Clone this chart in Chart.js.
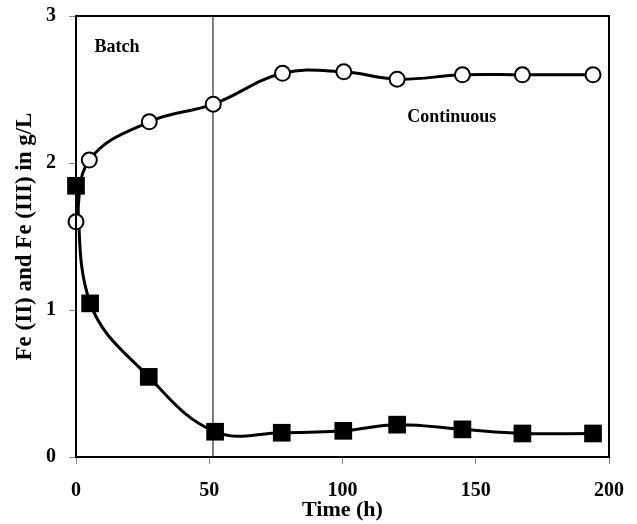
<!DOCTYPE html>
<html>
<head>
<meta charset="utf-8">
<script src="https://cdn.jsdelivr.net/npm/chart.js@4/dist/chart.umd.min.js"></script>
<style>
  html, body { margin: 0; padding: 0; background: #fff; }
  #wrap { width: 637px; height: 524px; }
</style>
</head>
<body>
<div id="wrap"><canvas id="myChart"></canvas></div>
<script>
// Fe (III) - open circles
var timeFe3 = [0, 5, 27.5, 51.5, 77.5, 100.5, 120.5, 145, 167.5, 194]
var fe3 = [1.6, 2.02, 2.28, 2.40, 2.61, 2.62, 2.57, 2.60, 2.60, 2.60]

// Fe (II) - filled squares
var timeFe2 = [0, 5.3, 27.3, 52.2, 77.2, 100.3, 120.5, 145, 167.5, 194]
var fe2 = [1.845, 1.045, 0.545, 0.172, 0.165, 0.178, 0.22, 0.188, 0.16, 0.16]

// switch from batch to continuous mode
var batchEnd = 51.4

var xTicks = [0, 50, 100, 150, 200]
var yTicks = [0, 1, 2, 3]

var notes = [
    { text: "Batch", x: 15.4, y: 2.79 },
    { text: "Continuous", x: 141, y: 2.31 }
]

var serif = "'Liberation Serif', 'Times New Roman', serif"

function toPoints(xs, ys) {
    return xs.map(function (x, i) { return { x: x, y: ys[i] } })
}

// frame round the plot + text notes
var framePlugin = {
    id: "frame",
    afterDatasetsDraw: function (chart) {
        var ctx = chart.ctx
        var a = chart.chartArea
        var xs = chart.scales.x, ys = chart.scales.y
        ctx.save()
        ctx.strokeStyle = "#000"
        ctx.lineWidth = 2
        ctx.strokeRect(a.left, a.top, a.right - a.left, a.bottom - a.top)
        ctx.fillStyle = "#000"
        ctx.font = "bold 18px " + serif
        ctx.textAlign = "center"
        ctx.textBaseline = "middle"
        notes.forEach(function (n) {
            ctx.fillText(n.text, xs.getPixelForValue(n.x), ys.getPixelForValue(n.y))
        })
        ctx.restore()
    }
}

var chartField = document.querySelector("#myChart").getContext("2d")

var myChart = new Chart(chartField, {
    type: "line",
    data: {
        datasets: [{
            label: "Fe (III)",
            data: toPoints(timeFe3, fe3),
            borderColor: "#000",
            borderWidth: 3,
            tension: 0.4,
            pointStyle: "circle",
            pointRadius: 7.5,
            pointBorderWidth: 2,
            pointBackgroundColor: "#fff",
            pointBorderColor: "#000",
            clip: false
        }, {
            label: "Fe (II)",
            data: toPoints(timeFe2, fe2),
            borderColor: "#000",
            borderWidth: 3,
            tension: 0.4,
            pointStyle: "rect",
            pointRadius: 12.5,
            pointBorderWidth: 0,
            pointBackgroundColor: "#000",
            pointBorderColor: "#000",
            clip: false
        }, {
            label: "boundary",
            data: [{ x: batchEnd, y: yTicks[0] }, { x: batchEnd, y: yTicks[yTicks.length - 1] }],
            borderColor: "#000",
            borderWidth: 1,
            pointRadius: 0,
            tension: 0
        }]
    },
    options: {
        responsive: true,
        maintainAspectRatio: false,
        animation: false,
        layout: { padding: { left: 0, right: 28, top: 16, bottom: 0 } },
        plugins: {
            legend: { display: false },
            tooltip: { enabled: false }
        },
        scales: {
            x: {
                type: "linear",
                min: xTicks[0],
                max: xTicks[xTicks.length - 1],
                afterBuildTicks: function (s) { s.ticks = xTicks.map(function (v) { return { value: v } }) },
                afterFit: function (s) { s.height = 67; s.paddingLeft = 0; s.paddingRight = 0 },
                border: { color: "#000", width: 2 },
                grid: { drawOnChartArea: false, color: "#888", tickLength: 7 },
                ticks: { color: "#000", padding: 15, maxRotation: 0, font: { family: serif, size: 20, weight: "bold" } },
                title: { display: true, text: "Time (h)", color: "#000", padding: { top: 0, bottom: 0 }, font: { family: serif, size: 22, weight: "bold" } }
            },
            y: {
                min: yTicks[0],
                max: yTicks[yTicks.length - 1],
                afterBuildTicks: function (s) { s.ticks = yTicks.map(function (v) { return { value: v } }) },
                afterFit: function (s) { s.width = 76; s.paddingTop = 0; s.paddingBottom = 0 },
                border: { color: "#000", width: 2 },
                grid: { drawOnChartArea: false, color: "#888", tickLength: 7 },
                ticks: { color: "#000", padding: 13, font: { family: serif, size: 20, weight: "bold" } },
                title: { display: true, text: "Fe (II) and Fe (III) in g/L", color: "#000", padding: { top: 11, bottom: 0 }, font: { family: serif, size: 23, weight: "bold" } }
            }
        }
    },
    plugins: [framePlugin]
})
</script>
</body>
</html>
